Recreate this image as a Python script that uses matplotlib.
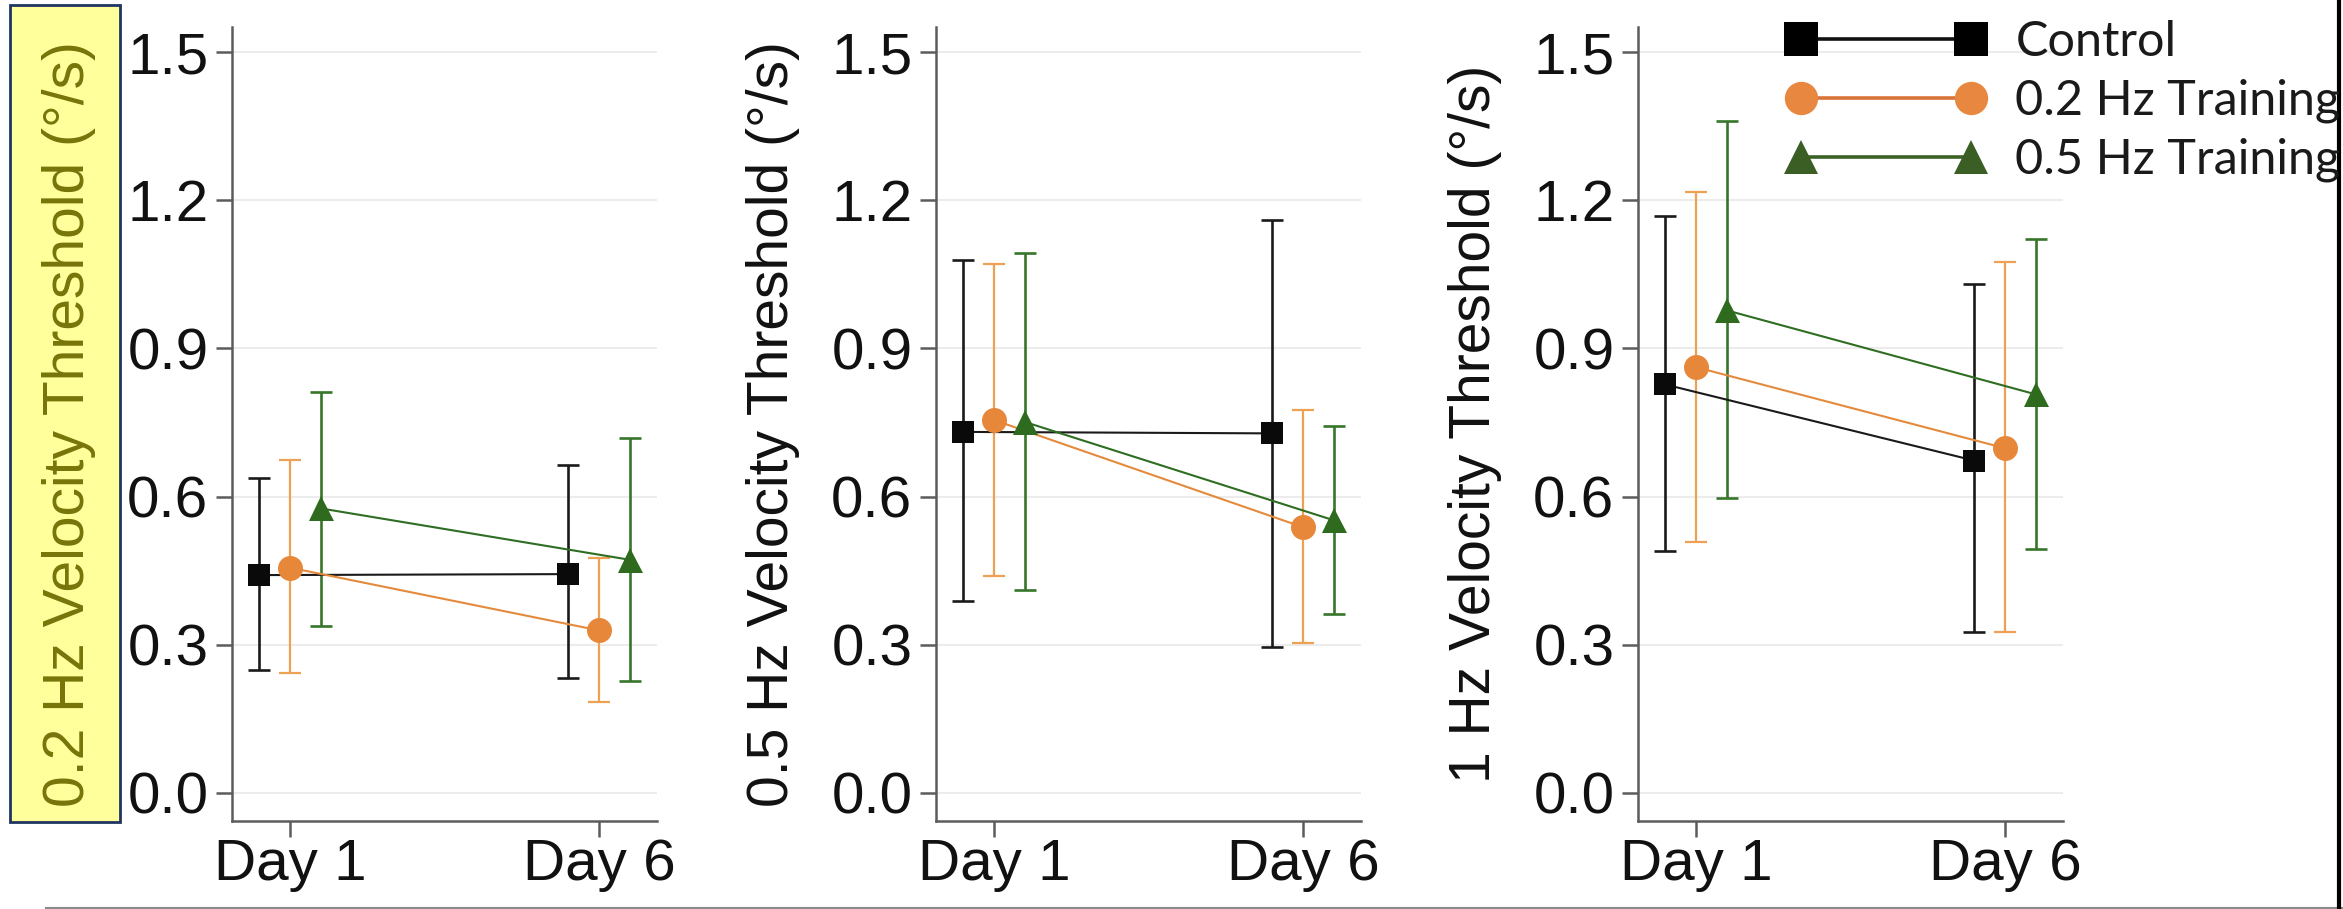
import matplotlib
matplotlib.use("Agg")
import matplotlib.pyplot as plt
import numpy as np
from matplotlib.patches import Rectangle
from matplotlib.lines import Line2D
from matplotlib.ticker import FormatStrFormatter

# ---------------- data ----------------
days = ["Day 1", "Day 6"]
groups = ["Control", "0.2 Hz Training", "0.5 Hz Training"]
ylabels = ["0.2 Hz Velocity Threshold (°/s)",
           "0.5 Hz Velocity Threshold (°/s)",
           "1 Hz Velocity Threshold (°/s)"]
yticks = [0.0, 0.3, 0.6, 0.9, 1.2, 1.5]

# rows: Control, 0.2 Hz Training, 0.5 Hz Training ; cols: Day 1, Day 6
mean_02 = [[0.441, 0.443], [0.456, 0.329], [0.576, 0.472]]
high_02 = [[0.638, 0.663], [0.675, 0.475], [0.812, 0.718]]
low_02 = [[0.248, 0.232], [0.243, 0.184], [0.337, 0.226]]

mean_05 = [[0.731, 0.728], [0.755, 0.538], [0.751, 0.552]]
high_05 = [[1.079, 1.161], [1.071, 0.775], [1.094, 0.743]]
low_05 = [[0.388, 0.295], [0.439, 0.304], [0.410, 0.363]]

mean_1 = [[0.827, 0.673], [0.862, 0.698], [0.977, 0.807]]
high_1 = [[1.168, 1.030], [1.217, 1.076], [1.360, 1.121]]
low_1 = [[0.489, 0.325], [0.509, 0.325], [0.597, 0.494]]

panels = [(mean_02, high_02, low_02), (mean_05, high_05, low_05), (mean_1, high_1, low_1)]

# ---------------- style ----------------
W, H = 2343, 909
DPI = 100
offsets = [-0.1, 0.0, 0.1]
markers = ["s", "o", "^"]
msizes = [16.5, 18, 18]
mcolors = ["#0a0a0a", "#E6873A", "#2F6B1F"]
lcolors = ["#1a1a1a", "#E48A3C", "#2F6E22"]
ecolors = ["#1a1a1a", "#EEA055", "#37762A"]
elw = [1.9, 1.6, 1.9]

tick_font = "Liberation Sans"
plt.rcParams["font.family"] = ["Liberation Sans", "DejaVu Sans"]

fig = plt.figure(figsize=(W / DPI, H / DPI), dpi=DPI)
fig.patch.set_facecolor("white")

lefts = [232, 936, 1638]
ax_w = 425
ax_top, ax_bot = 27, 821

spine_col = "#5c5c5c"
axes = []
for i, (mn, hi, lo) in enumerate(panels):
    ax = fig.add_axes([lefts[i] / W, 1 - ax_bot / H, ax_w / W, (ax_bot - ax_top) / H])
    axes.append(ax)
    x = np.arange(len(days))
    for g in range(len(groups)):
        m = np.array(mn[g]); h = np.array(hi[g]); l = np.array(lo[g])
        xs = x + offsets[g]
        ax.errorbar(xs, m, yerr=[m - l, h - m], fmt="none", ecolor=ecolors[g],
                    elinewidth=elw[g], capsize=8, capthick=elw[g], zorder=2)
        ax.plot(xs, m, color=lcolors[g], lw=1.5, zorder=3)
        ax.plot(xs, m, linestyle="none", marker=markers[g], markersize=msizes[g],
                color=mcolors[g], markeredgewidth=0, zorder=4)
    ax.set_xlim(-0.188, 1.188)
    ax.set_ylim(-0.057, 1.551)
    ax.set_yticks(yticks)
    ax.yaxis.set_major_formatter(FormatStrFormatter("%.1f"))
    ax.set_xticks(x)
    ax.set_xticklabels(days)
    ax.grid(axis="y", color="#ececec", lw=1.5, zorder=0)
    ax.set_axisbelow(True)
    for s in ["top", "right"]:
        ax.spines[s].set_visible(False)
    for s in ["left", "bottom"]:
        ax.spines[s].set_color(spine_col)
        ax.spines[s].set_linewidth(1.8)
    ax.tick_params(axis="both", length=11.5, width=1.8, color=spine_col,
                   labelsize=42, labelcolor="#111111")
    ax.tick_params(axis="x", pad=1)
    ax.tick_params(axis="y", pad=5.5)
    for t in ax.get_xticklabels() + ax.get_yticklabels():
        t.set_fontfamily(tick_font)
    lab = ax.set_ylabel(ylabels[i], fontsize=41, fontfamily=tick_font,
                        color="#111111" if i else "#77740A")
    lab.set_va("center")
    ax.yaxis.set_label_coords(-163 / ax_w, 0.5)

# yellow highlight box behind first y label
box = Rectangle((10 / W, 1 - 822 / H), 110 / W, 817 / H, transform=fig.transFigure,
                facecolor="#FFFF9C", edgecolor="#1F3460", lw=2.0, zorder=-1)
fig.patches.append(box)

# legend
handles = [Line2D([], [], color=c, lw=2.6, marker=mk, markersize=24, markeredgewidth=0,
                  markerfacecolor=mc)
           for c, mk, mc in zip(["#111111", "#D8733A", "#3B6226"], markers,
                                ["#000000", "#E8873F", "#3B5E24"])]
leg = fig.legend(handles, groups, loc="upper left",
                 bbox_to_anchor=(1786 / W, 1 - 20 / H), bbox_transform=fig.transFigure,
                 frameon=False, numpoints=2, handlelength=4.1, handletextpad=0.62,
                 labelspacing=0.3, borderaxespad=0, borderpad=0,
                 prop={"family": ["Lato", "DejaVu Sans"], "size": 35})
for t in leg.get_texts():
    t.set_color("#1a1a1a")

# frame lines of the original image
fig.add_artist(Line2D([46 / W, 1], [1.5 / H, 1.5 / H], transform=fig.transFigure,
                      color="#8a8a8a", lw=1.5))
fig.add_artist(Line2D([2338.5 / W, 2338.5 / W], [0, 1], transform=fig.transFigure,
                      color="#000000", lw=3))

fig.savefig("out.png", dpi=DPI, facecolor="white")
